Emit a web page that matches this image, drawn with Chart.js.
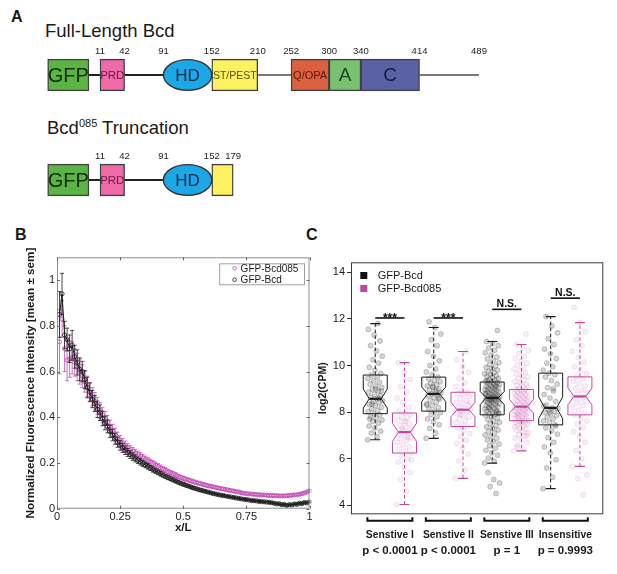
<!DOCTYPE html>
<html>
<head>
<meta charset="utf-8">
<script src="https://cdn.jsdelivr.net/npm/chart.js@4.4.1/dist/chart.umd.min.js"></script>
<style>
html,body{margin:0;padding:0;background:#fff;}
body{width:617px;height:574px;position:relative;overflow:hidden;font-family:"Liberation Sans",Arial,Helvetica,sans-serif;color:#1a1a1a;}
.t{position:absolute;white-space:nowrap;line-height:1;}
canvas{position:absolute;}
</style>
</head>
<body>
<div class="t" style="left:11px;top:9px;font-size:16px;font-weight:bold;">A</div>
<div class="t" style="left:45px;top:21.5px;font-size:18.5px;">Full-Length Bcd</div>
<div class="t" style="left:47px;top:119px;font-size:18.5px;">Bcd<span style="font-size:11px;position:relative;top:-7px;">085</span> Truncation</div>
<div class="t" style="left:15px;top:227px;font-size:16px;font-weight:bold;">B</div>
<div class="t" style="left:306px;top:227px;font-size:16px;font-weight:bold;">C</div>
<canvas id="cA1" width="460" height="50" style="left:40px;top:43.2px"></canvas>
<canvas id="cA2" width="460" height="50" style="left:40px;top:147.5px"></canvas>
<canvas id="cB" width="320" height="320" style="left:0px;top:240px"></canvas>
<canvas id="cC" width="317" height="334" style="left:300px;top:240px"></canvas>
<script>
// ================= DATA =================
// Panel A: protein domains (residue numbers)
const fullDomains = ['GFP', 'PRD', 'HD', 'ST/PEST', 'Q/OPA', 'A', 'C'];
const fullLabels  = ['GFP', 'PRD', 'HD', 'ST/PEST', 'Q/OPA', 'A', 'C'];
const fullStart   = [-55, 11, 91, 152, 252, 300, 340];
const fullEnd     = [-3, 42, 152, 210, 300, 340, 414];
const fullTicks   = [11, 42, 91, 152, 210, 252, 300, 340, 414, 489];
const fullLinkers = [[-3, 11], [42, 91], [210, 252], [414, 489]];

const truncDomains = ['GFP', 'PRD', 'HD', 'ST/PEST'];
const truncLabels  = ['GFP', 'PRD', 'HD', ''];
const truncStart   = [-55, 11, 91, 152];
const truncEnd     = [-3, 42, 152, 179];
const truncTicks   = [11, 42, 91, 152, 179];
const truncLinkers = [[-3, 11], [42, 91]];

// Panel B: normalized fluorescence profiles
const xL = [0.01,0.02,0.03,0.04,0.05,0.06,0.07,0.08,0.09,0.10,
  0.11,0.12,0.13,0.14,0.15,0.16,0.17,0.18,0.19,0.20,
  0.21,0.22,0.23,0.24,0.25,0.26,0.27,0.28,0.29,0.30,
  0.31,0.32,0.33,0.34,0.35,0.36,0.37,0.38,0.39,0.40,
  0.41,0.42,0.43,0.44,0.45,0.46,0.47,0.48,0.49,0.50,
  0.51,0.52,0.53,0.54,0.55,0.56,0.57,0.58,0.59,0.60,
  0.61,0.62,0.63,0.64,0.65,0.66,0.67,0.68,0.69,0.70,
  0.71,0.72,0.73,0.74,0.75,0.76,0.77,0.78,0.79,0.80,
  0.81,0.82,0.83,0.84,0.85,0.86,0.87,0.88,0.89,0.90,
  0.91,0.92,0.93,0.94,0.95,0.96,0.97,0.98,0.99,1.00];
const bcdMean = [0.85,0.94,0.76,0.74,0.70,0.715,0.665,0.64,0.61,0.60,
  0.565,0.53,0.51,0.48,0.46,0.435,0.42,0.395,0.375,0.36,
  0.338,0.322,0.306,0.291,0.277,0.266,0.256,0.246,0.237,0.228,
  0.220,0.212,0.205,0.198,0.191,0.185,0.178,0.171,0.165,0.159,
  0.153,0.147,0.141,0.136,0.131,0.126,0.121,0.116,0.111,0.107,
  0.103,0.099,0.095,0.091,0.088,0.084,0.081,0.078,0.075,0.072,
  0.069,0.066,0.064,0.061,0.059,0.057,0.055,0.053,0.051,0.049,
  0.047,0.045,0.043,0.041,0.040,0.038,0.036,0.035,0.034,0.032,
  0.031,0.030,0.029,0.028,0.026,0.024,0.021,0.022,0.017,0.019,
  0.014,0.018,0.016,0.021,0.019,0.024,0.022,0.027,0.025,0.030];
const bcdSem = [0.10,0.09,0.06,0.05,0.06,0.065,0.05,0.055,0.05,0.045,
  0.04,0.045,0.04,0.038,0.035,0.036,0.034,0.032,0.03,0.028,
  0.027,0.025,0.024,0.022,0.021,0.02,0.019,0.018,0.017,0.016,
  0.015,0.014,0.014,0.013,0.012,0.012,0.011,0.011,0.010,0.010,
  0.010,0.009,0.009,0.009,0.008,0.008,0.008,0.007,0.007,0.007,
  0.007,0.006,0.006,0.006,0.006,0.006,0.006,0.005,0.005,0.005,
  0.005,0.005,0.005,0.005,0.005,0.005,0.004,0.004,0.004,0.004,
  0.004,0.004,0.004,0.004,0.004,0.004,0.004,0.004,0.004,0.004,
  0.004,0.004,0.004,0.004,0.004,0.004,0.004,0.004,0.004,0.004,
  0.004,0.004,0.004,0.004,0.004,0.004,0.004,0.004,0.004,0.004];
const b085Mean = [0.73,0.83,0.70,0.65,0.655,0.66,0.64,0.62,0.60,0.58,
  0.555,0.535,0.51,0.49,0.47,0.45,0.43,0.41,0.395,0.38,
  0.36,0.343,0.327,0.311,0.297,0.285,0.275,0.266,0.258,0.25,
  0.243,0.236,0.229,0.222,0.215,0.209,0.203,0.197,0.191,0.185,
  0.179,0.173,0.168,0.162,0.157,0.152,0.147,0.142,0.137,0.133,
  0.129,0.126,0.122,0.118,0.115,0.112,0.109,0.106,0.103,0.100,
  0.098,0.095,0.093,0.090,0.088,0.086,0.084,0.081,0.079,0.077,
  0.075,0.073,0.070,0.068,0.066,0.065,0.064,0.063,0.062,0.061,
  0.060,0.060,0.059,0.058,0.058,0.057,0.057,0.056,0.056,0.056,
  0.057,0.058,0.059,0.060,0.061,0.063,0.066,0.069,0.073,0.078];
const b085Sem = [0.14,0.08,0.10,0.09,0.08,0.07,0.06,0.06,0.055,0.05,
  0.045,0.045,0.042,0.04,0.038,0.036,0.034,0.032,0.03,0.028,
  0.027,0.026,0.025,0.024,0.023,0.022,0.021,0.02,0.019,0.018,
  0.017,0.016,0.016,0.015,0.015,0.014,0.014,0.013,0.013,0.012,
  0.012,0.011,0.011,0.011,0.010,0.010,0.010,0.009,0.009,0.009,
  0.008,0.008,0.008,0.008,0.007,0.007,0.007,0.007,0.007,0.006,
  0.006,0.006,0.006,0.006,0.006,0.006,0.006,0.006,0.006,0.006,
  0.005,0.005,0.005,0.005,0.005,0.005,0.005,0.005,0.005,0.005,
  0.005,0.005,0.005,0.005,0.005,0.005,0.005,0.005,0.005,0.005,
  0.005,0.005,0.005,0.005,0.005,0.005,0.005,0.005,0.005,0.005];
const bXTicks = [0, 0.25, 0.5, 0.75, 1];
const bYTicks = [0, 0.2, 0.4, 0.6, 0.8, 1];
const bSeriesNames = ['GFP-Bcd', 'GFP-Bcd085'];

// Panel C: log2(CPM) per gene class
const cGroups   = ['Senstive I', 'Senstive II', 'Senstive III', 'Insensitive'];
const cPvalues  = ['p < 0.0001', 'p < 0.0001', 'p = 1', 'p = 0.9993'];
const cSeries   = ['GFP-Bcd', 'GFP-Bcd085'];
const cYTicks   = [4, 6, 8, 10, 12, 14];
// boxes in order: I-Bcd, I-085, II-Bcd, II-085, III-Bcd, III-085, Ins-Bcd, Ins-085
const boxWhiskLow  = [6.81, 4.03, 6.87, 5.15, 5.81, 6.33, 4.71, 5.67];
const boxQ1        = [7.93, 6.24, 8.04, 7.38, 7.88, 7.63, 7.45, 7.88];
const boxMedian    = [8.57, 7.14, 8.78, 8.10, 8.61, 8.23, 8.18, 8.67];
const boxQ3        = [9.59, 7.96, 9.50, 8.85, 9.29, 8.97, 9.67, 9.51];
const boxWhiskHigh = [11.80, 10.12, 11.63, 10.60, 11.03, 10.90, 12.10, 11.84];
const boxNotchLow  = [8.17, 6.74, 8.45, 7.80, 8.32, 7.96, 7.72, 8.31];
const boxNotchHigh = [8.99, 7.52, 9.08, 8.42, 8.88, 8.55, 8.65, 9.03];
const sigLevel = [12.04, 12.04, 12.41, 12.89];
const sigLabel = ['***', '***', 'N.S.', 'N.S.'];

const ptsBcdI = [6.81,6.95,7.1,7.18,7.32,7.4,7.52,7.6,7.66,7.74,7.8,7.88,7.93,8.02,8.06,8.14,8.2,8.27,8.33,8.41,8.45,8.5,8.57,8.62,8.7,8.76,8.85,8.9,8.98,9.05,9.12,9.2,9.28,9.35,9.44,9.52,9.59,9.66,9.8,9.92,10.1,10.25,10.4,10.62,10.85,11.05,11.3,11.55,11.8,8.35,8.9,9.0,7.7,8.6];
const pts085I = [4.03,4.6,5.1,5.4,5.65,5.85,6.0,6.1,6.24,6.32,6.42,6.5,6.6,6.7,6.78,6.85,6.92,7.0,7.06,7.14,7.2,7.28,7.35,7.42,7.5,7.58,7.66,7.74,7.8,7.88,7.96,8.05,8.2,8.4,8.6,8.85,9.1,9.4,9.7,10.12,6.9,7.3,5.95,7.6];
const ptsBcdII = [6.87,7.1,7.3,7.45,7.58,7.7,7.8,7.9,7.98,8.04,8.12,8.2,8.28,8.35,8.42,8.5,8.56,8.62,8.7,8.74,8.78,8.83,8.88,8.94,9.0,9.06,9.12,9.18,9.24,9.3,9.36,9.42,9.5,9.6,9.72,9.85,10.0,10.2,10.4,10.6,10.85,11.1,11.35,11.63,11.88,8.6,9.1,8.3,8.95];
const pts085II = [5.15,5.5,5.9,6.2,6.45,6.65,6.8,6.95,7.08,7.2,7.3,7.38,7.45,7.55,7.62,7.7,7.78,7.85,7.92,8.0,8.05,8.1,8.16,8.22,8.3,8.36,8.42,8.5,8.58,8.66,8.74,8.8,8.85,8.95,9.1,9.25,9.45,9.7,9.95,10.25,10.6,7.9,8.4];
const ptsBcdIII = [5.81,5.9,6.02,6.15,6.25,6.36,6.45,6.55,6.63,6.72,6.8,6.88,6.95,7.02,7.1,7.16,7.23,7.3,7.36,7.42,7.5,7.56,7.62,7.68,7.74,7.8,7.86,
  7.9,7.93,7.96,8.0,8.03,8.06,8.1,8.13,8.16,8.19,8.22,8.25,8.28,8.31,8.34,8.37,8.4,8.42,8.45,8.47,8.5,8.52,8.54,8.56,8.58,8.6,8.61,
  8.63,8.65,8.68,8.7,8.72,8.75,8.77,8.8,8.82,8.85,8.87,8.9,8.92,8.95,8.97,9.0,9.02,9.05,9.08,9.1,9.13,9.16,9.19,9.21,9.24,9.27,9.29,
  9.32,9.36,9.4,9.44,9.48,9.52,9.56,9.6,9.65,9.7,9.75,9.8,9.86,9.92,9.98,10.05,10.12,10.2,10.28,10.36,10.45,10.55,10.65,10.75,10.85,10.95,11.03,
  4.5,4.8,4.95,5.1,5.4,11.5,8.5,8.8,9.1,8.2,7.95,8.65,9.35,8.0,8.55];
const pts085III = [6.33,6.45,6.58,6.7,6.8,6.88,6.96,7.03,7.1,7.16,7.22,7.27,7.32,7.37,7.41,7.45,7.49,7.52,7.55,7.58,7.6,7.62,7.63,6.5,7.0,
  7.66,7.69,7.72,7.75,7.78,7.8,7.83,7.86,7.88,7.9,7.93,7.95,7.98,8.0,8.03,8.05,8.08,8.1,8.12,8.15,8.17,8.19,8.21,8.23,7.85,
  8.26,8.29,8.32,8.35,8.38,8.41,8.44,8.47,8.5,8.53,8.56,8.59,8.62,8.65,8.68,8.71,8.74,8.77,8.8,8.83,8.86,8.89,8.92,8.95,8.97,
  9.0,9.05,9.1,9.15,9.2,9.26,9.32,9.38,9.44,9.5,9.57,9.64,9.71,9.78,9.86,9.94,10.02,10.1,10.2,10.3,10.4,10.52,10.65,10.78,10.9,11.35];
const ptsBcdIns = [4.71,5.2,5.6,5.95,6.25,6.5,6.7,6.9,7.05,7.2,7.32,7.45,7.55,7.62,7.7,7.78,7.85,7.92,7.98,8.04,8.1,8.14,8.18,
  8.3,8.45,8.6,8.75,8.9,9.05,9.2,9.35,9.5,9.6,9.67,9.8,9.95,10.1,10.3,10.5,10.7,10.9,11.15,11.4,11.7,12.1,7.4,8.0,8.25,9.0];
const pts085Ins = [5.67,6.0,6.35,6.7,6.95,7.15,7.35,7.5,7.62,7.75,7.88,7.98,8.08,8.18,8.28,8.38,8.46,8.54,8.6,8.67,
  8.76,8.85,8.94,9.03,9.12,9.22,9.32,9.42,9.51,9.65,9.8,9.95,10.15,10.35,10.6,10.85,11.1,11.45,11.84,12.5,4.45,5.15,5.3];
const cPoints = [ptsBcdI, pts085I, ptsBcdII, pts085II, ptsBcdIII, pts085III, ptsBcdIns, pts085Ins];

// ================= STYLE =================
const FONT = '"Liberation Sans", Arial, Helvetica, sans-serif';
Chart.defaults.font.family = FONT;
Chart.defaults.color = '#1a1a1a';
Chart.defaults.animation = false;

const domainStyle = {
  'GFP':     {fill: '#5cb445', text: '#102f08', size: 20},
  'PRD':     {fill: '#ef6aa8', text: '#6e1848', size: 11.5},
  'HD':      {fill: '#1ca8e6', text: '#0b2b48', size: 17},
  'ST/PEST': {fill: '#fcf160', text: '#5a5300', size: 10.5},
  'Q/OPA':   {fill: '#da603f', text: '#5e1809', size: 11},
  'A':       {fill: '#79c070', text: '#1a4a16', size: 19},
  'C':       {fill: '#5a62a5', text: '#181c42', size: 19}
};
domainStyle['HD'].ellipse = true;
const A_MIN = -64.67, A_MAX = 515.48;

// ================= PANEL A =================
function makeDomainChart(id, names, texts, starts, ends, ticks, linkers) {
  const deco = {
    id: 'domainDeco',
    beforeDatasetsDraw(chart) {
      const ctx = chart.ctx, xs = chart.scales.x;
      const y = chart.getDatasetMeta(0).data[0].y;
      ctx.save();
      ctx.lineWidth = 2;
      linkers.forEach(seg => {
        ctx.strokeStyle = seg[0] >= 200 ? '#7a7a7a' : '#222';
        ctx.beginPath();
        ctx.moveTo(xs.getPixelForValue(seg[0]), y);
        ctx.lineTo(xs.getPixelForValue(seg[1]), y);
        ctx.stroke();
      });
      ctx.restore();
    },
    afterDatasetsDraw(chart) {
      const ctx = chart.ctx;
      chart.getDatasetMeta(0).data.forEach((el, i) => {
        const st = domainStyle[names[i]];
        const p = el.getProps(['x', 'base', 'y', 'height'], true);
        const l = Math.min(p.x, p.base), r = Math.max(p.x, p.base);
        ctx.save();
        if (st.ellipse) {
          ctx.beginPath();
          ctx.ellipse((l + r) / 2, p.y, (r - l) / 2, p.height / 2 - 0.5, 0, 0, 2 * Math.PI);
          ctx.fillStyle = st.fill; ctx.fill();
          ctx.lineWidth = 1.4; ctx.strokeStyle = '#333'; ctx.stroke();
        }
        if (texts[i]) {
          ctx.fillStyle = st.text;
          ctx.font = st.size + 'px ' + FONT;
          ctx.textAlign = 'center'; ctx.textBaseline = 'middle';
          ctx.fillText(texts[i], (l + r) / 2, p.y + 1);
        }
        ctx.restore();
      });
    }
  };
  return new Chart(document.getElementById(id), {
    type: 'bar',
    data: {
      labels: ['row'],
      datasets: [{
        data: names.map((n, i) => ({x: [starts[i], ends[i]], y: 'row'})),
        backgroundColor: names.map(n => domainStyle[n].ellipse ? 'rgba(0,0,0,0)' : domainStyle[n].fill),
        borderColor: names.map(n => domainStyle[n].ellipse ? 'rgba(0,0,0,0)' : '#404040'),
        borderWidth: 1.4,
        borderSkipped: false,
        barThickness: 31.7,
        grouped: false
      }]
    },
    options: {
      indexAxis: 'y', responsive: false, animation: false, events: [],
      layout: {padding: 0},
      plugins: {legend: {display: false}, tooltip: {enabled: false}},
      scales: {
        x: {
          type: 'linear', position: 'top', min: A_MIN, max: A_MAX,
          grid: {display: false, drawTicks: false}, border: {display: false},
          afterBuildTicks: s => { s.ticks = ticks.map(v => ({value: v})); },
          afterFit: s => { s.height = 14; },
          ticks: {autoSkip: false, maxRotation: 0, padding: 0, color: '#222', font: {size: 9.5}, callback: v => String(v)}
        },
        y: {type: 'category', display: false}
      }
    },
    plugins: [deco]
  });
}
makeDomainChart('cA1', fullDomains, fullLabels, fullStart, fullEnd, fullTicks, fullLinkers);
makeDomainChart('cA2', truncDomains, truncLabels, truncStart, truncEnd, truncTicks, truncLinkers);

// ================= PANEL B =================
const B_BLACK = '#1c1c1c', B_PINK = '#c24cb4';
const bSem = [bcdSem, b085Sem];
const bColors = [B_BLACK, B_PINK];
const bPlugin = {
  id: 'bDeco',
  beforeDatasetDraw(chart, args) {
    const i = args.index, sem = bSem[i], ds = chart.data.datasets[i];
    const ys = chart.scales.y, ctx = chart.ctx;
    ctx.save();
    ctx.strokeStyle = bColors[i]; ctx.lineWidth = 0.8;
    args.meta.data.forEach((pt, k) => {
      const v = ds.data[k].y;
      const t = ys.getPixelForValue(v + sem[k]), b = ys.getPixelForValue(v - sem[k]);
      ctx.beginPath();
      ctx.moveTo(pt.x, t); ctx.lineTo(pt.x, b);
      ctx.moveTo(pt.x - 2, t); ctx.lineTo(pt.x + 2, t);
      ctx.moveTo(pt.x - 2, b); ctx.lineTo(pt.x + 2, b);
      ctx.stroke();
    });
    ctx.restore();
  },
  afterDraw(chart) {
    const ctx = chart.ctx, a = chart.chartArea, xs = chart.scales.x, ys = chart.scales.y;
    ctx.save();
    ctx.strokeStyle = '#8c8c8c'; ctx.lineWidth = 1;
    ctx.strokeRect(a.left + 0.5, a.top + 0.5, a.right - a.left - 1, a.bottom - a.top - 1);
    ctx.strokeStyle = '#666';
    ctx.beginPath();
    bXTicks.forEach(v => {
      const x = Math.round(xs.getPixelForValue(v)) + 0.5;
      ctx.moveTo(x, a.bottom); ctx.lineTo(x, a.bottom - 3);
      ctx.moveTo(x, a.top); ctx.lineTo(x, a.top + 3);
    });
    bYTicks.forEach(v => {
      const y = Math.round(ys.getPixelForValue(v)) + 0.5;
      ctx.moveTo(a.left, y); ctx.lineTo(a.left + 3, y);
      ctx.moveTo(a.right, y); ctx.lineTo(a.right - 3, y);
    });
    ctx.stroke();
    // y tick labels, placed with the y scale
    ctx.font = '11px ' + FONT; ctx.fillStyle = '#222';
    ctx.textAlign = 'right'; ctx.textBaseline = 'middle';
    bYTicks.forEach(v => { ctx.fillText(String(v), a.left - 2, ys.getPixelForValue(v)); });
    // y title
    ctx.save();
    ctx.translate(a.left - 26.3, (a.top + a.bottom) / 2);
    ctx.rotate(-Math.PI / 2);
    ctx.font = 'bold 11.7px ' + FONT; ctx.fillStyle = '#1a1a1a';
    ctx.textAlign = 'center'; ctx.textBaseline = 'middle';
    ctx.fillText('Normalized Fluorescence Intensity [mean \u00b1 sem]', 0, 0);
    ctx.restore();
    // legend (inside, top-right)
    ctx.font = '10px ' + FONT;
    const order = [1, 0];
    const tw = Math.max(...order.map(i => ctx.measureText(chart.data.datasets[i].label).width));
    const bw = tw + 27, bh = 21;
    const bx = a.right - 5.5 - bw, by = a.top + 6;
    ctx.fillStyle = '#fff'; ctx.fillRect(bx, by, bw, bh);
    ctx.strokeStyle = '#a0a0a0'; ctx.strokeRect(bx + 0.5, by + 0.5, bw, bh);
    order.forEach((i, r) => {
      const cy = by + 5 + r * 11.5;
      ctx.beginPath(); ctx.arc(bx + 15.4, cy, 1.8, 0, 2 * Math.PI);
      ctx.strokeStyle = bColors[i]; ctx.lineWidth = 0.8; ctx.stroke();
      ctx.fillStyle = '#1a1a1a'; ctx.textAlign = 'left'; ctx.textBaseline = 'middle';
      ctx.fillText(chart.data.datasets[i].label, bx + 21.4, cy + 0.5);
    });
    ctx.restore();
  }
};
new Chart(document.getElementById('cB'), {
  type: 'scatter',
  data: {
    datasets: [
      {label: bSeriesNames[0], data: xL.map((x, i) => ({x, y: bcdMean[i]})), showLine: true,
       borderColor: B_BLACK, borderWidth: 1, pointRadius: 2.1, pointBorderWidth: 0.8,
       pointBackgroundColor: 'rgba(0,0,0,0)', pointBorderColor: B_BLACK},
      {label: bSeriesNames[1], data: xL.map((x, i) => ({x, y: b085Mean[i]})), showLine: false,
       borderColor: B_PINK, pointRadius: 2.1, pointBorderWidth: 0.8,
       pointBackgroundColor: 'rgba(0,0,0,0)', pointBorderColor: B_PINK}
    ]
  },
  options: {
    responsive: false, animation: false, events: [],
    layout: {padding: {left: 20, top: 17.3, right: 10.5, bottom: 24.8}},
    plugins: {legend: {display: false}, tooltip: {enabled: false}},
    scales: {
      x: {
        type: 'linear', min: 0, max: 1,
        grid: {display: false, drawTicks: false}, border: {display: false},
        afterBuildTicks: s => { s.ticks = bXTicks.map(v => ({value: v})); },
        afterFit: s => { s.height = 26.5; },
        ticks: {padding: 2, color: '#222', font: {size: 11}, maxRotation: 0, autoSkip: false, callback: v => String(v)},
        title: {display: true, text: 'x/L', font: {size: 11.5, weight: 'bold'}, color: '#1a1a1a', padding: 0}
      },
      y: {
        type: 'linear', min: 0, max: 1.1,
        grid: {display: false, drawTicks: false},
        border: {display: false},
        afterBuildTicks: s => { s.ticks = bYTicks.map(v => ({value: v})); },
        afterFit: s => { s.width = 37; },
        ticks: {display: false}
      }
    }
  },
  plugins: [bPlugin]
});

// ================= PANEL C =================
const C_BLACK = '#1a1a1a', C_PINK = '#c0479f';
const jitter = i => (((i * 0.6180339887) % 1) - 0.5) * 0.52;
const cPlugin = {
  id: 'cDeco',
  afterDatasetsDraw(chart) {
    const ctx = chart.ctx, xs = chart.scales.x, ys = chart.scales.y;
    const X = v => xs.getPixelForValue(v), Y = v => ys.getPixelForValue(v);
    const hw = 0.41, cap = 0.17;
    boxQ1.forEach((q1, i) => {
      const pos = i + 1, col = i % 2 ? C_PINK : C_BLACK;
      ctx.save();
      ctx.strokeStyle = col; ctx.lineWidth = 1;
      ctx.setLineDash([3.5, 2.5]);
      ctx.beginPath();
      ctx.moveTo(X(pos), Y(boxQ3[i])); ctx.lineTo(X(pos), Y(boxWhiskHigh[i]));
      ctx.moveTo(X(pos), Y(q1)); ctx.lineTo(X(pos), Y(boxWhiskLow[i]));
      ctx.stroke();
      ctx.setLineDash([]);
      ctx.lineWidth = 1.2;
      ctx.beginPath();
      ctx.moveTo(X(pos - cap), Y(boxWhiskHigh[i])); ctx.lineTo(X(pos + cap), Y(boxWhiskHigh[i]));
      ctx.moveTo(X(pos - cap), Y(boxWhiskLow[i])); ctx.lineTo(X(pos + cap), Y(boxWhiskLow[i]));
      ctx.stroke();
      ctx.lineWidth = 1;
      ctx.beginPath();
      ctx.moveTo(X(pos - hw), Y(boxQ3[i]));
      ctx.lineTo(X(pos + hw), Y(boxQ3[i]));
      ctx.lineTo(X(pos + hw), Y(boxNotchHigh[i]));
      ctx.lineTo(X(pos + hw / 2), Y(boxMedian[i]));
      ctx.lineTo(X(pos + hw), Y(boxNotchLow[i]));
      ctx.lineTo(X(pos + hw), Y(q1));
      ctx.lineTo(X(pos - hw), Y(q1));
      ctx.lineTo(X(pos - hw), Y(boxNotchLow[i]));
      ctx.lineTo(X(pos - hw / 2), Y(boxMedian[i]));
      ctx.lineTo(X(pos - hw), Y(boxNotchHigh[i]));
      ctx.closePath();
      ctx.stroke();
      ctx.lineWidth = 2.2;
      ctx.beginPath();
      ctx.moveTo(X(pos - hw / 2), Y(boxMedian[i])); ctx.lineTo(X(pos + hw / 2), Y(boxMedian[i]));
      ctx.stroke();
      ctx.restore();
    });
    // significance bars
    ctx.save();
    sigLevel.forEach((lv, k) => {
      const a = 2 * k + 1, b = 2 * k + 2, y = Y(lv);
      ctx.strokeStyle = '#111'; ctx.lineWidth = 1.6;
      ctx.beginPath(); ctx.moveTo(X(a), y); ctx.lineTo(X(b), y); ctx.stroke();
      ctx.fillStyle = '#111'; ctx.textAlign = 'center'; ctx.textBaseline = 'alphabetic';
      if (sigLabel[k] === '***') {
        ctx.font = 'bold 12px ' + FONT;
        ctx.fillText(sigLabel[k], (X(a) + X(b)) / 2, y + 4);
      } else {
        ctx.font = 'bold 10.5px ' + FONT;
        ctx.fillText(sigLabel[k], (X(a) + X(b)) / 2, y - 2);
      }
    });
    ctx.restore();
  },
  afterDraw(chart) {
    const ctx = chart.ctx, a = chart.chartArea, xs = chart.scales.x;
    const X = v => xs.getPixelForValue(v);
    ctx.save();
    ctx.strokeStyle = '#3a3a3a'; ctx.lineWidth = 1;
    ctx.strokeRect(a.left + 0.5, a.top + 0.5, a.right - a.left - 1, a.bottom - a.top - 1);
    cGroups.forEach((g, k) => {
      const c = 2 * k + 1.5;
      const l = X(c - 0.77), r = X(c + 0.77), yb = a.bottom + 6.5;
      ctx.strokeStyle = '#111'; ctx.lineWidth = 2;
      ctx.beginPath();
      ctx.moveTo(l, yb - 3.5); ctx.lineTo(l, yb); ctx.lineTo(r, yb); ctx.lineTo(r, yb - 3.5);
      ctx.stroke();
      ctx.fillStyle = '#1a1a1a'; ctx.textAlign = 'center'; ctx.textBaseline = 'middle';
      ctx.font = 'bold 10.3px ' + FONT;
      ctx.fillText(g, X(c), a.bottom + 21);
      ctx.font = 'bold 11.5px ' + FONT;
      ctx.fillText(cPvalues[k], X(c), a.bottom + 37);
    });
    // y title
    ctx.save();
    ctx.translate(a.left - 28, (a.top + a.bottom) / 2);
    ctx.rotate(-Math.PI / 2);
    ctx.font = 'bold 10.5px ' + FONT; ctx.textAlign = 'center'; ctx.textBaseline = 'middle';
    ctx.fillText('log2(CPM)', 0, 0);
    ctx.restore();
    // legend
    ctx.font = '11px ' + FONT; ctx.textAlign = 'left'; ctx.textBaseline = 'middle';
    cSeries.forEach((s, r) => {
      const cy = a.top + 13.2 + r * 13;
      ctx.fillStyle = r ? C_PINK : '#111';
      ctx.fillRect(a.left + 9.3, cy - 3.5, 7, 7);
      ctx.fillStyle = '#1a1a1a';
      ctx.fillText(s, a.left + 26.7, cy + 0.5);
    });
    ctx.restore();
  }
};
new Chart(document.getElementById('cC'), {
  type: 'scatter',
  data: {
    datasets: cPoints.map((vals, g) => ({
      label: cSeries[g % 2] + ' ' + cGroups[Math.floor(g / 2)],
      data: vals.map((v, i) => ({x: g + 1 + jitter(i), y: v})),
      pointRadius: 2.5, pointBorderWidth: 0.7,
      pointBackgroundColor: g % 2 ? 'rgba(205,120,190,0.12)' : 'rgba(70,70,70,0.22)',
      pointBorderColor: g % 2 ? 'rgba(200,100,180,0.22)' : 'rgba(50,50,50,0.33)'
    }))
  },
  options: {
    responsive: false, animation: false, events: [],
    layout: {padding: {left: 16.7, top: 22.3, right: 13.7, bottom: 59.7}},
    plugins: {legend: {display: false}, tooltip: {enabled: false}},
    scales: {
      x: {type: 'linear', min: 0.17, max: 8.8, display: false},
      y: {
        type: 'linear', min: 3.61, max: 14.43,
        grid: {drawOnChartArea: false, drawTicks: true, tickLength: 4, color: '#333'},
        border: {display: false},
        afterBuildTicks: s => { s.ticks = cYTicks.map(v => ({value: v})); },
        afterFit: s => { s.width = 34.3; },
        ticks: {padding: 2, color: '#222', font: {size: 11}, autoSkip: false, callback: v => String(v)}
      }
    }
  },
  plugins: [cPlugin]
});
</script>
</body>
</html>
